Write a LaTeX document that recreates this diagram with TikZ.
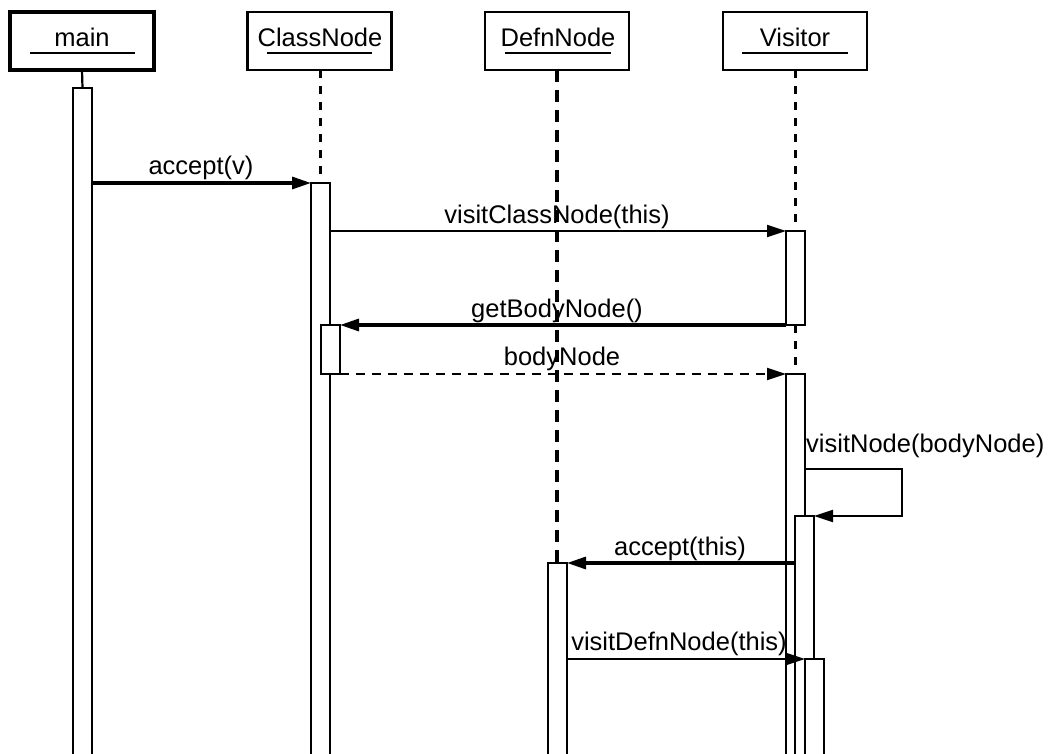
\documentclass[tikz,border=0pt]{standalone}
\usepackage{fontspec}
\setmainfont{Liberation Sans}
\usetikzlibrary{arrows.meta}
\begin{document}
\begin{tikzpicture}[x=1pt,y=-1pt,
  every node/.style={font=\fontsize{25.5}{30}\selectfont},
  head/.style={draw, line width=2.2pt, minimum width=144pt, minimum height=58pt, inner sep=0pt, outer sep=0pt},
  act/.style={draw, fill=white, line width=2.4pt, minimum width=19pt, inner sep=0pt, outer sep=0pt, anchor=north},
  msg/.style={line width=2.2pt, -{Triangle[length=19pt,width=12pt]}},
  thickmsg/.style={msg, line width=3.2pt},
  lbl/.style={anchor=base, inner sep=0pt},
  life/.style={line width=2.2pt, dash pattern=on 8pt off 8pt},
  uline/.style={line width=2.2pt}]
\useasboundingbox (0,0) rectangle (1057,754);
% headers
\node[head, line width=3.4pt] (hmain) at (82,41) {};
\node[head] (hclass) at (319.5,41) {};
\node[head] (hdefn) at (557,41) {};
\node[head] (hvis) at (795,41) {};
\node[lbl] (tmain) at (82,47) {main};
\node[lbl] (tclass) at (320,47) {ClassNode};
\node[lbl] (tdefn) at (558,47) {DefnNode};
\node[lbl] (tvis) at (795,47) {Visitor};
\draw[uline] (30,53) -- (135,53);
\draw[uline] (267,53) -- (372,53);
\draw[uline] (505,53) -- (611,53);
\draw[uline] (742,53) -- (848,53);
% activations
\node[act, minimum height=668pt] (mA) at (82.5,88) {};
\node[act, minimum height=573pt] (cA) at (320.5,183) {};
\node[act, minimum height=94pt] (vA) at (795.5,231) {};
\node[act, minimum height=382pt] (vB) at (795.5,374) {};
\node[act, minimum height=49pt] (cB) at (330.5,325) {};
\node[act, minimum height=240pt] (vC) at (804.5,516) {};
\node[act, minimum height=97pt] (vD) at (814.5,659) {};
\node[act, minimum height=193pt] (dA) at (557.5,563) {};
% lifelines
\draw[line width=2.2pt] (hmain.south) -- (mA.north);
\draw[life] (hclass.south -| cA.north) -- (cA.north);
\draw[life] (hvis.south -| vA.north) -- (vA.north);
\draw[life] (vA.south) -- (vB.north);
% messages
\draw[thickmsg] (mA.east |- cA.north) -- (cA.north west);
\node[lbl] (l1) at (201,175) {accept(v)};
\draw[msg] (cA.east |- vA.north) -- (vA.north west);
\node[lbl] (l2) at (557,223) {visitClassNode(this)};
\draw[thickmsg] (vA.south west) -- (cB.north east);
\node[lbl] (l3) at (557,317) {getBodyNode()};
\draw[msg, dash pattern=on 9pt off 7pt] (cB.south east) -- (vB.north west);
\node[lbl] (l4) at (562,365) {bodyNode};
\coordinate (s1) at (902,469);
\draw[msg] (vB.east |- s1) -- (s1) -- (s1 |- vC.north) -- (vC.north east);
\node[lbl, anchor=base west] (l5) at (806,452) {visitNode(bodyNode)};
\draw[thickmsg] (vC.west |- dA.north) -- (dA.north east);
\node[lbl] (l6) at (680,555) {accept(this)};
\draw[msg] (dA.east |- vD.north) -- (vD.north west);
\node[lbl] (l7) at (679,650) {visitDefnNode(this)};
% DefnNode lifeline on top
\draw[line width=3.2pt, dash pattern=on 12pt off 8pt] (hdefn.south) -- (hdefn.south |- dA.north);
\end{tikzpicture}
\end{document}
